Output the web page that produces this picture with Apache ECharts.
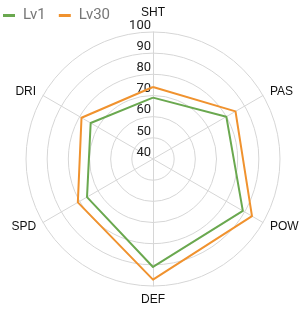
<!DOCTYPE html>
<html>
<head>
<meta charset="utf-8">
<script src="https://cdn.jsdelivr.net/npm/echarts@6/dist/echarts.min.js"></script>
<style>
  html, body { margin: 0; padding: 0; background: #fff; }
  #chart { width: 308px; height: 317px; }
</style>
</head>
<body>
<div id="chart"></div>
<script>
// 能力项与数值 (顺时针顺序)
var indicatorNames = ['SHT', 'PAS', 'POW', 'DEF', 'SPD', 'DRI'];
var seriesNames = ['Lv1', 'Lv30'];
var lv1Values = [69, 80, 89, 91, 76, 74];
var lv30Values = [74, 85, 94, 97, 81, 79];
var axisMin = 40;
var axisMax = 100;

// echarts 雷达图是逆时针排列, 这里翻转一下顺序
function toCcw(arr) {
  return [arr[0]].concat(arr.slice(1).reverse());
}

var chart = echarts.init(document.getElementById('chart'));
var indicators = toCcw(indicatorNames).map(function (n) {
  return { name: n, min: axisMin, max: axisMax };
});
indicators[0].axisLabel = { show: true };

var option = {
  color: ['#6aa84f', '#f0922e'],
  legend: {
    data: seriesNames,
    left: 3,
    top: 8,
    padding: 0,
    itemWidth: 12,
    itemHeight: 3,
    itemGap: 13,
    icon: 'rect',
    textStyle: {
      color: '#777',
      fontSize: 15,
      fontFamily: 'Roboto',
      padding: [0, 0, 0, 3]
    }
  },
  radar: {
    center: [153, 159],
    radius: 127,
    shape: 'circle',
    startAngle: 90,
    splitNumber: 6,
    indicator: indicators,
    axisName: {
      color: '#111',
      fontSize: 12,
      fontFamily: 'Liberation Sans'
    },
    nameGap: 8,
    axisLabel: {
      show: false,
      color: '#222',
      fontSize: 13,
      fontFamily: 'Roboto',
      margin: 2,
      align: 'right',
      verticalAlign: 'bottom'
    },
    splitArea: { show: false },
    splitLine: { lineStyle: { color: '#d6d6d6', width: 1 } },
    axisLine: { lineStyle: { color: '#d6d6d6', width: 1 } }
  },
  series: [
    {
      type: 'radar',
      symbol: 'none',
      lineStyle: { width: 2 },
      data: [
        { name: seriesNames[0], value: toCcw(lv1Values) },
        { name: seriesNames[1], value: toCcw(lv30Values) }
      ]
    }
  ]
};
chart.setOption(option);
</script>
</body>
</html>
